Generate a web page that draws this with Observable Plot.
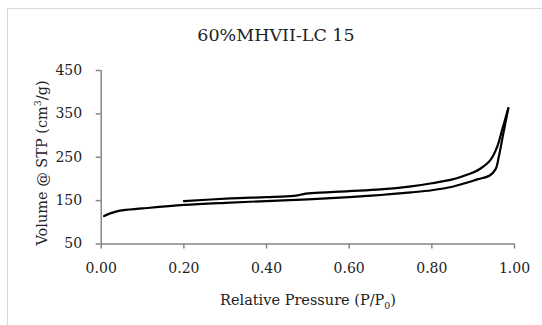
<!DOCTYPE html>
<html>
<head>
<meta charset="utf-8">
<script src="https://cdn.jsdelivr.net/npm/d3@7"></script>
<script src="https://cdn.jsdelivr.net/npm/@observablehq/plot@0.6"></script>
<style>
  html, body { margin: 0; padding: 0; background: #fff; }
  #wrap { position: relative; width: 542px; height: 325px; overflow: hidden; font-family: "DejaVu Serif", serif; color: #222; }
  #frame { position: absolute; left: 7px; top: 8px; width: 600px; height: 400px; border-left: 1px solid #d9d9d9; border-top: 1px solid #d9d9d9; }
  #title { position: absolute; left: 0; top: 25px; width: 552px; text-align: center; font-size: 17.5px; }
  #xlabel { position: absolute; left: 0; top: 292px; width: 616px; text-align: center; font-size: 14.5px; }
  #ylabel { position: absolute; left: 41px; top: 163px; transform: translate(-50%, -50%) rotate(-90deg); white-space: nowrap; font-size: 14.5px; }
  sub, sup { font-size: 0.65em; }
  #chart { position: absolute; left: 0; top: 0; }
</style>
</head>
<body>
<div id="wrap">
  <div id="frame"></div>
  <div id="chart"></div>
  <div id="title">60%MHVII-LC 15</div>
  <div id="ylabel">Volume @ STP (cm<sup>3</sup>/g)</div>
  <div id="xlabel">Relative Pressure (P/P<sub>0</sub>)</div>
</div>
<script>
// Adsorption branch (lower)
const adsX = [0.007, 0.02, 0.045, 0.1, 0.2, 0.3, 0.4, 0.5, 0.6, 0.676, 0.75, 0.8, 0.85, 0.88, 0.91, 0.94, 0.954, 0.962, 0.97, 0.985];
const adsY = [114.5, 120, 127, 132, 140, 145, 149, 153, 158, 163, 169, 174, 182, 190, 199, 208, 222, 251, 290, 363];
// Desorption branch (upper)
const desX = [0.2, 0.313, 0.4, 0.466, 0.48, 0.495, 0.51, 0.6, 0.676, 0.75, 0.8, 0.85, 0.877, 0.9, 0.918, 0.942, 0.958, 0.97, 0.985];
const desY = [149, 155, 158, 161, 163, 166, 167.5, 172, 176, 183, 190, 199, 207, 215, 224, 244, 274, 313, 363];

const xTicks = [0, 0.2, 0.4, 0.6, 0.8, 1.0];
const yTicks = [50, 150, 250, 350, 450];

const ads = adsX.map((x, i) => ({x, y: adsY[i]}));
const des = desX.map((x, i) => ({x, y: desY[i]}));

const axisColor = "#868686";

const chart = Plot.plot({
  width: 542,
  height: 325,
  marginLeft: 100.7,
  marginRight: 28,
  marginTop: 70,
  marginBottom: 81.5,
  style: { fontFamily: "'DejaVu Serif', serif", fontSize: "14px", color: "#222", background: "transparent" },
  x: { domain: [0, 1] },
  y: { domain: [50, 450] },
  marks: [
    Plot.ruleY([50], { stroke: axisColor, strokeWidth: 1.5 }),
    Plot.ruleX([0], { stroke: axisColor, strokeWidth: 1.5 }),
    Plot.axisX({ ticks: xTicks, tickFormat: d => d.toFixed(2), tickSize: 5, tickPadding: 14, stroke: axisColor, strokeWidth: 1.5, fill: "#222", label: null }),
    Plot.axisY({ ticks: yTicks, tickFormat: d => String(d), tickSize: 5, tickPadding: 14, stroke: axisColor, strokeWidth: 1.5, fill: "#222", label: null }),
    Plot.line(ads, { x: "x", y: "y", stroke: "#000", strokeWidth: 2.2, curve: "catmull-rom" }),
    Plot.line(des, { x: "x", y: "y", stroke: "#000", strokeWidth: 2.2, curve: "catmull-rom" })
  ]
});
document.getElementById("chart").appendChild(chart);
</script>
</body>
</html>
